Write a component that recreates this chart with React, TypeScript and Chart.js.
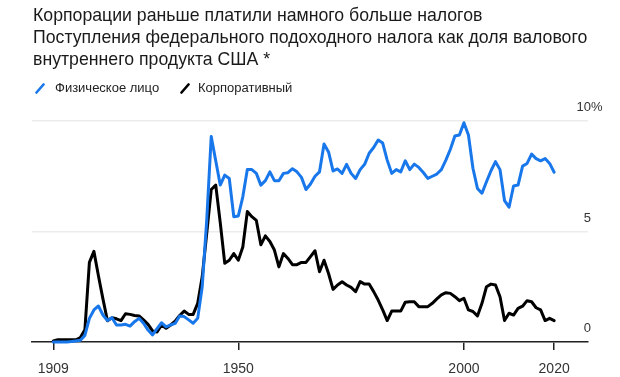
import React, { useEffect, useRef } from "react";
import { Chart, registerables } from "chart.js";

Chart.register(...registerables);

const titleLines = [
  "Корпорации раньше платили намного больше налогов",
  "Поступления федерального подоходного налога как доля валового",
  "внутреннего продукта США *",
];
const seriesNames = ["Физическое лицо", "Корпоративный"];
const seriesColors = ["#1877ea", "#000000"];

const startYear = 1909;

const individual = [
  0, 0, 0, 0, 0.02, 0.05, 0.08, 0.3, 1.07, 1.45,
  1.63, 1.22, 0.97, 1.1, 0.77, 0.77, 0.8, 0.72, 0.92, 1.07,
  0.85, 0.54, 0.32, 0.6, 0.87, 0.68, 0.77, 0.84, 1.18, 1.15,
  1.0, 0.85, 1.07, 2.5, 5.5, 9.3, 8.2, 7.1, 7.55, 7.4,
  5.67, 5.7, 6.57, 7.8, 7.8, 7.63, 7.1, 7.3, 7.7, 7.3,
  7.3, 7.63, 7.66, 7.84, 7.7, 7.45, 6.9, 7.15, 7.5, 7.7,
  8.96, 8.6, 7.74, 7.83, 7.63, 8.04, 7.63, 7.4, 7.8, 8.04,
  8.54, 8.8, 9.14, 9.0, 8.23, 7.63, 7.8, 7.7, 8.2, 7.8,
  8.05, 7.9, 7.67, 7.4, 7.5, 7.6, 7.8, 8.23, 8.72, 9.32,
  9.37, 9.92, 9.37, 7.86, 6.95, 6.73, 7.25, 7.75, 8.16, 7.8,
  6.4, 6.1, 7.06, 7.1, 7.96, 8.08, 8.5, 8.3, 8.2, 8.3,
  8.08, 7.68,
];

const corporate = [
  0.05, 0.1, 0.1, 0.1, 0.1, 0.1, 0.2, 0.55, 3.6, 4.1,
  3.0, 1.95, 0.96, 1.1, 1.05, 0.97, 1.28, 1.25, 1.2, 1.18,
  1.0, 0.8, 0.5, 0.45, 0.77, 0.62, 0.77, 0.94, 1.2, 1.4,
  1.25, 1.25, 1.75, 2.95, 4.9, 6.9, 7.1, 5.4, 3.56, 3.7,
  4.0, 3.7, 4.3, 5.9, 5.67, 5.5, 4.4, 4.8, 4.55, 4.16,
  3.4, 4.0, 3.78, 3.5, 3.5, 3.6, 3.6, 3.86, 4.13, 3.18,
  3.7, 3.1, 2.38, 2.58, 2.73, 2.58, 2.47, 2.28, 2.73, 2.62,
  2.62, 2.28, 1.9, 1.45, 0.97, 1.4, 1.4, 1.4, 1.8, 1.82,
  1.82, 1.6, 1.6, 1.6, 1.75, 1.95, 2.13, 2.23, 2.2, 2.05,
  1.87, 1.98, 1.45, 1.38, 1.18, 1.75, 2.5, 2.62, 2.58, 2.05,
  0.97, 1.3, 1.22, 1.52, 1.62, 1.87, 1.82, 1.55, 1.45, 0.97,
  1.07, 0.97,
];

const xTicks = [1909, 1950, 2000, 2020];
const yTicks = [0, 5, 10];
const yTickLabels = ["0", "5", "10"];
const yUnit = "%";

const FONT = '"Liberation Sans", Arial, Helvetica, sans-serif';

const toPoints = (arr: number[]) => arr.map((v, i) => ({ x: startYear + i, y: v }));

const yLabelPlugin = {
  id: "yLabelsAbove",
  afterDraw(chart: any) {
    const { ctx, chartArea } = chart;
    const ys = chart.scales.y;
    ctx.save();
    ctx.font = `13px ${FONT}`;
    ctx.fillStyle = "#333333";
    ctx.textBaseline = "alphabetic";
    yTicks.forEach((v, i) => {
      const py = ys.getPixelForValue(v) - 10;
      const px = chartArea.right + 3;
      ctx.textAlign = "right";
      ctx.fillText(yTickLabels[i], px, py);
      if (i === yTicks.length - 1) {
        ctx.textAlign = "left";
        ctx.fillText(yUnit, px, py);
      }
    });
    ctx.restore();
  },
};

function LineChart() {
  const ref = useRef<HTMLCanvasElement | null>(null);
  useEffect(() => {
    if (!ref.current) return;
    const chart = new Chart(ref.current, {
      type: "line",
      data: {
        datasets: [
          {
            label: seriesNames[0],
            data: toPoints(individual),
            borderColor: seriesColors[0],
            borderWidth: 3,
            pointRadius: 0,
            tension: 0,
            borderJoinStyle: "round",
            borderCapStyle: "round",
            clip: false,
          } as any,
          {
            label: seriesNames[1],
            data: toPoints(corporate),
            borderColor: seriesColors[1],
            borderWidth: 3,
            pointRadius: 0,
            tension: 0,
            borderJoinStyle: "round",
            borderCapStyle: "round",
            clip: false,
          } as any,
        ],
      },
      options: {
        animation: false,
        responsive: false,
        layout: { padding: { left: 32, right: 32, top: 121, bottom: 0 } },
        plugins: {
          legend: { display: false },
          title: { display: false },
          tooltip: { enabled: false },
        },
        scales: {
          x: {
            type: "linear",
            min: 1904.28,
            max: 2027.5,
            afterBuildTicks: (scale: any) => {
              scale.ticks = xTicks.map((v) => ({ value: v }));
            },
            afterFit: (scale: any) => {
              scale.height = 35;
            },
            ticks: {
              autoSkip: false,
              maxRotation: 0,
              padding: 11,
              color: "#333333",
              font: { size: 14, family: FONT },
              callback: (v: any) => String(v),
            },
            grid: {
              display: true,
              drawOnChartArea: false,
              drawTicks: true,
              tickLength: 8,
              color: "#222222",
              lineWidth: 1.5,
            },
            border: { display: true, color: "#222222", width: 1.5 },
          },
          y: {
            type: "linear",
            position: "right",
            min: 0,
            max: 10,
            afterBuildTicks: (scale: any) => {
              scale.ticks = yTicks.map((v) => ({ value: v }));
            },
            afterFit: (scale: any) => {
              scale.width = 0;
            },
            ticks: { display: false },
            grid: {
              display: true,
              drawTicks: false,
              color: "#ececec",
              lineWidth: 1.5,
            },
            border: { display: false },
          },
        },
      },
      plugins: [yLabelPlugin],
    } as any);
    return () => chart.destroy();
  }, []);
  return (
    <canvas
      ref={ref}
      width={620}
      height={377}
      style={{ position: "absolute", left: 0, top: 0, width: 620, height: 377, display: "block" }}
    />
  );
}

function LegendIcon({ color }: { color: string }) {
  return (
    <svg width="10" height="11" viewBox="0 0 10 11" style={{ display: "block" }}>
      <line x1="1.5" y1="9.5" x2="8.5" y2="1.5" stroke={color} strokeWidth="2.6" strokeLinecap="round" />
    </svg>
  );
}

export default function App() {
  const legendPos = [
    { icon: 35, text: 55 },
    { icon: 180, text: 198 },
  ];
  return (
    <div
      style={{
        position: "fixed",
        left: 0,
        top: 0,
        width: 620,
        height: 377,
        background: "#ffffff",
        overflow: "hidden",
        fontFamily: FONT,
      }}
    >
      <LineChart />
      <div
        style={{
          position: "absolute",
          left: 33,
          top: 4,
          fontSize: 17.7,
          lineHeight: "22px",
          color: "#1a1a1a",
          whiteSpace: "nowrap",
        }}
      >
        {titleLines.map((t, i) => (
          <div key={i}>{t}</div>
        ))}
      </div>
      {seriesNames.map((name, i) => (
        <React.Fragment key={name}>
          <div style={{ position: "absolute", left: legendPos[i].icon, top: 83 }}>
            <LegendIcon color={seriesColors[i]} />
          </div>
          <div
            style={{
              position: "absolute",
              left: legendPos[i].text,
              top: 80,
              fontSize: 13,
              lineHeight: "16px",
              color: "#222222",
              whiteSpace: "nowrap",
            }}
          >
            {name}
          </div>
        </React.Fragment>
      ))}
    </div>
  );
}
